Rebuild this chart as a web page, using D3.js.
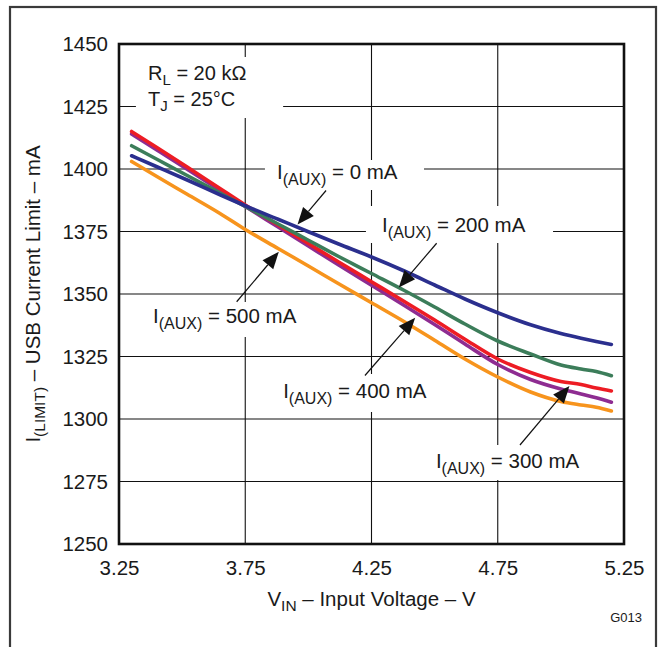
<!DOCTYPE html>
<html>
<head>
<meta charset="utf-8">
<script src="https://cdn.jsdelivr.net/npm/d3@7"></script>
<style>
  html, body { margin: 0; padding: 0; background: #fff; }
  svg { display: block; }
  text { font-family: "Liberation Sans", Arial, Helvetica, sans-serif; fill: #1a1a1a; }
</style>
</head>
<body>
<svg id="chart" width="661" height="647"></svg>
<script>
// ---------- data ----------
const vin = [3.30, 3.40, 3.52, 3.65, 3.75, 3.88, 4.00, 4.12, 4.25, 4.38, 4.50, 4.62, 4.75, 4.88, 5.00, 5.08, 5.14, 5.20];
const aux0   = [1405.3, 1400.9, 1395.6, 1389.7, 1385.3, 1379.9, 1374.9, 1370.0, 1364.8, 1359.2, 1353.6, 1348.0, 1342.5, 1337.7, 1334.2, 1332.3, 1331.0, 1329.8];
const aux200 = [1409.3, 1403.9, 1397.4, 1390.4, 1385.0, 1378.0, 1371.5, 1365.0, 1358.2, 1351.4, 1344.8, 1338.0, 1331.2, 1326.0, 1321.6, 1320.0, 1319.0, 1317.3];
const aux300 = [1415.0, 1408.6, 1400.8, 1392.2, 1385.6, 1377.6, 1370.2, 1362.8, 1354.9, 1347.0, 1339.6, 1331.9, 1324.0, 1318.6, 1315.0, 1313.8, 1312.4, 1311.2];
const aux400 = [1414.0, 1407.6, 1399.9, 1391.5, 1385.0, 1376.8, 1369.2, 1361.6, 1353.5, 1345.4, 1337.8, 1330.0, 1321.8, 1315.8, 1312.0, 1310.0, 1308.5, 1306.7];
const aux500 = [1403.0, 1397.0, 1389.9, 1382.2, 1375.8, 1368.2, 1361.2, 1354.1, 1346.5, 1338.9, 1331.5, 1324.0, 1316.8, 1310.8, 1307.0, 1305.6, 1304.7, 1303.2];

const xTicks = [3.25, 3.75, 4.25, 4.75, 5.25];
const yTicks = [1250, 1275, 1300, 1325, 1350, 1375, 1400, 1425, 1450];
const seriesNames = ["500 mA", "400 mA", "300 mA", "200 mA", "0 mA"];
const seriesValues = [aux500, aux400, aux300, aux200, aux0];
const seriesColors = ["#f7941d", "#8e2c91", "#ed1c24", "#3c7d5a", "#2b2f8e"];

// annotation labels (data units): [text value, x (V), baseline (mA)]
const auxLabels = [
  ["0 mA",   3.876, 1396.0],
  ["200 mA", 4.292, 1374.8],
  ["500 mA", 3.385, 1338.4],
  ["400 mA", 3.900, 1308.4],
  ["300 mA", 4.505, 1280.4]
];
// white boxes behind labels: [x0, x1, yTop, yBottom] in data units
const labelBoxes = [
  [3.317, 3.900, 1444.8, 1420.4],
  [3.828, 4.458, 1403.6, 1391.6],
  [4.228, 4.969, 1385.2, 1370.4],
  [3.333, 4.006, 1346.8, 1332.8],
  [3.848, 4.521, 1318.0, 1302.8],
  [4.462, 5.135, 1289.6, 1275.6]
];
// arrows: [fromV, fromI, tipV, tipI]
const arrows = [
  [4.070, 1391.4, 3.957, 1377.8],
  [4.508, 1370.3, 4.358, 1352.6],
  [3.716, 1346.9, 3.883, 1366.9],
  [4.224, 1317.4, 4.423, 1340.5],
  [4.838, 1289.6, 5.034, 1313.2]
];

// ---------- layout ----------
const L = 119, R = 624, T = 44, B = 544;
const svg = d3.select("#chart");
const x = d3.scaleLinear().domain([3.25, 5.25]).range([L, R]);
const y = d3.scaleLinear().domain([1250, 1450]).range([B, T]);

svg.append("rect").attr("x", 0).attr("y", 0).attr("width", 661).attr("height", 647).attr("fill", "#fff");
// outer border
svg.append("rect").attr("x", 10).attr("y", 7).attr("width", 646).attr("height", 660)
  .attr("fill", "none").attr("stroke", "#3a3a3a").attr("stroke-width", 2.2);

// gridlines
const grid = svg.append("g");
grid.selectAll("line.h").data(yTicks.slice(1, -1)).join("line")
  .attr("x1", L).attr("x2", R).attr("y1", d => y(d)).attr("y2", d => y(d))
  .attr("stroke", "#111").attr("stroke-width", 1.1);
grid.selectAll("line.v").data(xTicks.slice(1, -1)).join("line")
  .attr("y1", T).attr("y2", B).attr("x1", d => x(d)).attr("x2", d => x(d))
  .attr("stroke", "#111").attr("stroke-width", 1.1);

// label boxes
svg.append("g").selectAll("rect").data(labelBoxes).join("rect")
  .attr("x", d => x(d[0])).attr("width", d => x(d[1]) - x(d[0]))
  .attr("y", d => y(d[2])).attr("height", d => y(d[3]) - y(d[2]))
  .attr("fill", "#fff");

// curves
const line = d3.line().x(d => x(d[0])).y(d => y(d[1])).curve(d3.curveMonotoneX);
svg.append("g").selectAll("path").data(seriesValues).join("path")
  .attr("d", vals => line(vin.map((v, i) => [v, vals[i]])))
  .attr("fill", "none")
  .attr("stroke", (d, i) => seriesColors[i])
  .attr("stroke-width", 3.6)
  .attr("stroke-linejoin", "round")
  .attr("stroke-linecap", "round");

// frame
svg.append("rect").attr("x", L).attr("y", T).attr("width", R - L).attr("height", B - T)
  .attr("fill", "none").attr("stroke", "#111").attr("stroke-width", 2.6);

// axes (labels only)
const yAxis = svg.append("g").attr("transform", `translate(${L},0)`)
  .call(d3.axisLeft(y).tickValues(yTicks).tickSize(0).tickPadding(11).tickFormat(d3.format("d")));
const xAxis = svg.append("g").attr("transform", `translate(0,${B})`)
  .call(d3.axisBottom(x).tickValues(xTicks).tickSize(0).tickPadding(16).tickFormat(d3.format(".2f")));
[yAxis, xAxis].forEach(g => {
  g.select(".domain").remove();
  g.selectAll("text").attr("font-size", 20.5).attr("fill", "#1a1a1a")
    .attr("font-family", '"Liberation Sans", Arial, sans-serif');
});

// axis titles
const xt = svg.append("text").attr("x", x(4.25)).attr("y", 606).attr("text-anchor", "middle").attr("font-size", 20.5);
xt.append("tspan").text("V");
xt.append("tspan").attr("font-size", 15.5).attr("dy", 5).text("IN");
xt.append("tspan").attr("dy", -5).text(" \u2013 Input Voltage \u2013 V");

const yt = svg.append("text").attr("transform", `translate(40,${y(1350)}) rotate(-90)`)
  .attr("text-anchor", "middle").attr("font-size", 20.5);
yt.append("tspan").text("I");
yt.append("tspan").attr("font-size", 15.5).attr("dy", 5).text("(LIMIT)");
yt.append("tspan").attr("dy", -5).text(" \u2013 USB Current Limit \u2013 mA");

// conditions
const c1 = svg.append("text").attr("x", x(3.365)).attr("y", y(1435.6)).attr("font-size", 20);
c1.append("tspan").text("R");
c1.append("tspan").attr("font-size", 15).attr("dy", 5).text("L");
c1.append("tspan").attr("dy", -5).text(" = 20 k\u03A9");
const c2 = svg.append("text").attr("x", x(3.365)).attr("y", y(1425.2)).attr("font-size", 20);
c2.append("tspan").text("T");
c2.append("tspan").attr("font-size", 15).attr("dy", 5).text("J");
c2.append("tspan").attr("dy", -5).text(" = 25\u00B0C");

// aux labels
auxLabels.forEach(([val, vx, vy]) => {
  const t = svg.append("text").attr("x", x(vx)).attr("y", y(vy)).attr("font-size", 20.5);
  t.append("tspan").text("I");
  t.append("tspan").attr("font-size", 16).attr("dy", 6).text("(AUX)");
  t.append("tspan").attr("dy", -6).text(" = " + val);
});

// arrows
const ag = svg.append("g");
arrows.forEach(([fv, fi, tv, ti]) => {
  const x1 = x(fv), y1 = y(fi), x2 = x(tv), y2 = y(ti);
  const dx = x2 - x1, dy = y2 - y1, len = Math.hypot(dx, dy);
  const ux = dx / len, uy = dy / len;
  const hl = 17, hw = 7;
  const bx = x2 - ux * hl, by = y2 - uy * hl;
  ag.append("line").attr("x1", x1).attr("y1", y1).attr("x2", bx).attr("y2", by)
    .attr("stroke", "#111").attr("stroke-width", 1.2);
  ag.append("path")
    .attr("d", `M${x2},${y2}L${bx - uy * hw},${by + ux * hw}L${bx + uy * hw},${by - ux * hw}Z`)
    .attr("fill", "#111");
});

// figure id
svg.append("text").attr("x", 642).attr("y", 622).attr("text-anchor", "end")
  .attr("font-size", 13).text("G013");
</script>
</body>
</html>
